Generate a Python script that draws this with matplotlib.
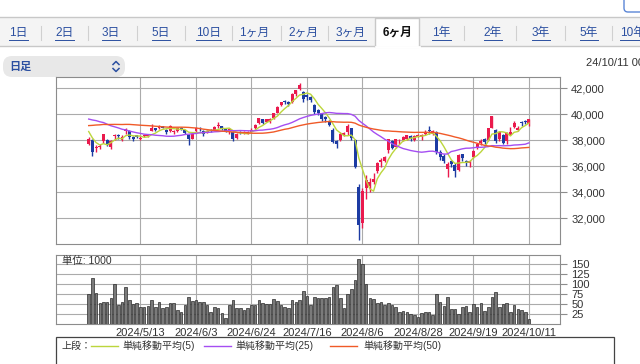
import matplotlib
matplotlib.use("Agg")
import matplotlib.pyplot as plt
import numpy as np
import pandas as pd
from matplotlib.patches import Rectangle, FancyBboxPatch

plt.rcParams["font.family"] = ["Liberation Sans", "Noto Sans CJK JP"]

# closes before the shown window (only feed the moving averages)
pre_close = [36011, 36158, 36354, 36160, 36119, 36863, 36897, 37963, 37703, 38157, 38487, 38470, 38363,
             38262, 39098, 39233, 39239, 39208, 39166, 39910, 40109, 40097, 40090, 39598, 39688, 38820,
             38797, 38695, 38807, 38707, 39740, 40003, 40815, 40888, 40414, 40398, 40762, 40168, 40369,
             39803, 39838, 39451, 39773, 38992, 39347, 39773, 39581, 39442, 39523, 39232, 38471, 37961]

dates = ["4/18", "4/19", "4/22", "4/23", "4/24", "4/25", "4/26", "4/30", "5/1", "5/2",
         "5/7", "5/8", "5/9", "5/10", "5/13", "5/14", "5/15", "5/16", "5/17", "5/20",
         "5/21", "5/22", "5/23", "5/24", "5/27", "5/28", "5/29", "5/30", "5/31", "6/3",
         "6/4", "6/5", "6/6", "6/7", "6/10", "6/11", "6/12", "6/13", "6/14", "6/17",
         "6/18", "6/19", "6/20", "6/21", "6/24", "6/25", "6/26", "6/27", "6/28", "7/1",
         "7/2", "7/3", "7/4", "7/5", "7/8", "7/9", "7/10", "7/11", "7/12", "7/16",
         "7/17", "7/18", "7/19", "7/22", "7/23", "7/24", "7/25", "7/26", "7/29", "7/30",
         "7/31", "8/1", "8/2", "8/5", "8/6", "8/7", "8/8", "8/9", "8/13", "8/14",
         "8/15", "8/16", "8/19", "8/20", "8/21", "8/22", "8/23", "8/26", "8/27", "8/28",
         "8/29", "8/30", "9/2", "9/3", "9/4", "9/5", "9/6", "9/9", "9/10", "9/11",
         "9/12", "9/13", "9/17", "9/18", "9/19", "9/20", "9/24", "9/25", "9/26", "9/27",
         "9/30", "10/1", "10/2", "10/3", "10/4", "10/7", "10/8", "10/9", "10/10", "10/11"]

opens = [37700, 38000, 37400, 37500, 37900, 38000, 37500, 38300, 38350, 38000,
         38700, 38700, 38250, 38350, 38100, 38300, 38300, 38700, 38900, 38900,
         39050, 38800, 38700, 38600, 38700, 38950, 38750, 38400, 38100, 38700,
         38950, 38700, 38600, 38750, 38800, 39050, 39050, 38900, 38700, 38650,
         38150, 38650, 38550, 38500, 38650, 38900, 39300, 39600, 39400, 39400,
         39700, 40100, 40700, 40950, 40900, 40900, 41550, 41900, 41700, 41450,
         41300, 40700, 40300, 40000, 39800, 39500, 38800, 37900, 38000, 38400,
         38600, 38900, 38000, 34400, 31600, 34300, 34500, 34800, 35600, 36300,
         36400, 37200, 37900, 37500, 37900, 38000, 38100, 38300, 38000, 38250,
         38200, 38450, 38800, 38450, 38600, 37100, 36800, 35800, 36400, 36100,
         35700, 36900, 36400, 36200, 36700, 37400, 37800, 38100, 38000, 38950,
         38800, 38100, 38400, 37900, 38400, 39000, 38800, 39350, 39450, 39250]

highs = [38200, 38050, 37600, 37700, 38500, 38100, 38000, 38450, 38450, 38350,
         38900, 38750, 38300, 38400, 38300, 38450, 38450, 39200, 38950, 39150,
         39100, 38850, 39150, 38750, 38950, 39000, 38800, 38450, 38550, 39000,
         39000, 38750, 38800, 38850, 39100, 39350, 39100, 38950, 38900, 38700,
         38550, 38700, 38700, 38700, 38900, 39200, 39700, 39650, 39650, 39700,
         40100, 40600, 40950, 41100, 41000, 41600, 41850, 42426, 41750, 41550,
         41350, 40750, 40400, 40000, 39850, 39550, 38900, 38000, 38600, 38650,
         39200, 38950, 38050, 34600, 34300, 35300, 35100, 35500, 36300, 36600,
         36800, 38100, 38000, 38100, 38100, 38300, 38400, 38400, 38400, 38500,
         38450, 38750, 39100, 38800, 38700, 37200, 36900, 36300, 36500, 36200,
         36900, 36950, 36500, 36500, 37200, 37800, 38100, 38150, 38950, 39830,
         38850, 38700, 38450, 38600, 39000, 39500, 39100, 39500, 39550, 39650]

lows = [37600, 36733, 37100, 37300, 37800, 37550, 37300, 38000, 38100, 37900,
        38500, 38100, 37950, 38150, 38000, 38250, 38250, 38700, 38700, 38850,
        38900, 38500, 38650, 38500, 38650, 38800, 38500, 37650, 38050, 38650,
        38700, 38300, 38550, 38600, 38750, 38950, 38800, 38600, 38500, 37900,
        38100, 38450, 38500, 38450, 38600, 38850, 39250, 39200, 39350, 39300,
        39650, 40050, 40650, 40800, 40600, 40850, 41400, 41850, 40950, 41100,
        40900, 40000, 39900, 39450, 39350, 39100, 37800, 37400, 37950, 38300,
        38400, 38000, 35850, 30300, 31200, 33500, 34000, 34600, 35500, 35900,
        36300, 37000, 37300, 37400, 37700, 37900, 38000, 37900, 37900, 38200,
        38000, 38400, 38500, 38400, 36900, 36500, 36200, 35150, 35900, 35150,
        35650, 36400, 36000, 35900, 36600, 37300, 37600, 37700, 37950, 38900,
        37800, 37900, 37700, 37700, 38400, 38900, 38700, 39100, 39200, 39100]

closes = [38079, 37068, 37438, 37552, 38460, 37628, 37934, 38405, 38274, 38236,
          38835, 38202, 38073, 38229, 38179, 38356, 38385, 38920, 38787, 39069,
          38946, 38617, 39103, 38646, 38900, 38855, 38556, 38054, 38487, 38923,
          38837, 38490, 38703, 38683, 39038, 39134, 38876, 38720, 38814, 38102,
          38482, 38570, 38633, 38596, 38804, 39173, 39667, 39341, 39583, 39631,
          40074, 40580, 40913, 40912, 40780, 41580, 41831, 42224, 41190, 41275,
          41097, 40126, 40063, 39599, 39594, 39154, 37869, 37667, 38468, 38525,
          39101, 38126, 35909, 31500, 34100, 34900, 34800, 35025, 36232, 36442,
          36726, 38062, 37388, 38062, 37951, 38211, 38364, 38110, 38288, 38371,
          38362, 38647, 38700, 38686, 37047, 36657, 36391, 36159, 36159, 35619,
          36833, 36581, 36203, 36380, 37155, 37723, 37940, 37870, 38925, 39829,
          37919, 38651, 37808, 38552, 38635, 39332, 38937, 39277, 39380, 39605]

# volume, unit 1000
volumes = [75, 116, 77, 53, 55, 55, 64, 99, 47, 55,
           93, 60, 49, 53, 43, 43, 45, 60, 43, 55,
           40, 43, 53, 53, 35, 29, 47, 68, 58, 60,
           54, 54, 47, 31, 43, 39, 27, 14, 47, 60,
           41, 40, 35, 40, 47, 47, 60, 52, 50, 50,
           62, 57, 47, 43, 41, 60, 55, 60, 83, 70,
           47, 68, 66, 64, 64, 67, 92, 97, 64, 41,
           75, 87, 110, 162, 150, 99, 66, 62, 52, 55,
           47, 52, 47, 43, 31, 33, 29, 25, 22, 17,
           27, 31, 31, 22, 75, 55, 45, 68, 37, 37,
           25, 43, 45, 31, 50, 43, 52, 33, 43, 67,
           80, 43, 50, 52, 31, 47, 37, 35, 29, 12]

date_ticks = ["2024/5/13", "2024/6/3", "2024/6/24", "2024/7/16",
              "2024/8/6", "2024/8/28", "2024/9/19", "2024/10/11"]
price_ticks = [32000, 34000, 36000, 38000, 40000, 42000]
vol_ticks = [25, 50, 75, 100, 125, 150]

tabs = ["1日", "2日", "3日", "5日", "10日", "1ヶ月", "2ヶ月", "3ヶ月", "6ヶ月", "1年", "2年", "3年", "5年", "10年"]
active_tab = "6ヶ月"

ma_specs = [(5, "#bcd63c", "単純移動平均(5)"),
            (25, "#a54ef2", "単純移動平均(25)"),
            (50, "#f05a28", "単純移動平均(50)")]

UP = "#ea1a4d"
DOWN = "#1c3ba3"
GRID = "#ababab"
FRAME = "#8c8c8c"
TXT = "#333333"
LINK = "#2b4fa0"

W, H = 640, 364
fig = plt.figure(figsize=(W / 100, H / 100), dpi=100)
fig.patch.set_facecolor("white")

# pixel-space overlay for page furniture
ui = fig.add_axes([0, 0, 1, 1], zorder=0)
ui.set_xlim(0, W)
ui.set_ylim(H, 0)
ui.axis("off")

n = len(closes)
x = np.arange(n)
xlim = (-8.84, 127.4)
tick_pos = [dates.index(t.replace("2024/", "")) for t in date_ticks]


def px_axes(left, top, right, bottom):
    return fig.add_axes([left / W, 1 - bottom / H, (right - left) / W, (bottom - top) / H], zorder=2)


def style_axes(ax):
    for s in ax.spines.values():
        s.set_color(FRAME)
        s.set_linewidth(0.8)
    ax.yaxis.tick_right()
    ax.tick_params(axis="y", colors=FRAME, labelcolor=TXT, labelsize=8, length=5, width=0.8, pad=3)
    ax.grid(True, color=GRID, linewidth=0.8)
    ax.set_axisbelow(True)
    ax.set_xlim(*xlim)
    ax.set_xticks(tick_pos)


# ---- price panel ----
ax_p = px_axes(56, 77, 560, 244)
style_axes(ax_p)
ax_p.set_ylim(30000, 42850)
ax_p.set_yticks(price_ticks)
ax_p.set_yticklabels(["{:,}".format(v) for v in price_ticks])
ax_p.tick_params(axis="x", length=0, labelbottom=False)

o = np.array(opens)
c = np.array(closes)
colors = [UP if cc >= oo else DOWN for oo, cc in zip(o, c)]
ax_p.vlines(x, lows, highs, colors=colors, linewidth=1.0, zorder=3)
body_lo = np.minimum(o, c)
body_h = np.maximum(np.abs(c - o), 60)
ax_p.bar(x, body_h, bottom=body_lo, width=0.8, color=colors, linewidth=0, zorder=4)

all_close = pd.Series(pre_close + closes)
for win, col, _ in ma_specs:
    ma = all_close.rolling(win).mean().to_numpy()[len(pre_close):]
    ax_p.plot(x, ma, color=col, linewidth=1.0, zorder=5)

# ---- volume panel ----
ax_v = px_axes(56, 255, 560, 324)
style_axes(ax_v)
ax_v.set_ylim(0, 172.5)
ax_v.set_yticks(vol_ticks)
ax_v.set_yticklabels([str(v) for v in vol_ticks])
ax_v.set_xticklabels(date_ticks)
ax_v.tick_params(axis="x", length=0, pad=3, labelsize=8, labelcolor=TXT)
ax_v.bar(x, volumes, width=0.7, color="#7a7a7a", edgecolor="#2a2a2a", linewidth=0.5, zorder=3)
ax_v.text(6 / 504, 0.91, "単位: 1000", transform=ax_v.transAxes, fontsize=7.5, color=TXT,
          ha="left", va="center", zorder=6)

# ---- tab bar ----
ui.add_patch(Rectangle((0, 17), W, 29, facecolor="#f4f4f4", edgecolor="none"))
ui.plot([0, W], [17, 17], color="#c8c8c8", linewidth=1)
tab_centers = [18.5, 64.5, 111, 161, 208.5, 254.5, 303.5, 351, 397.5, 441.5, 493, 541, 589, 632]
seps = [41, 88, 137, 185, 232, 281, 328, 464, 516, 565, 612]
act_l, act_r = 375, 419
ui.plot([0, act_l], [46, 46], color="#c8c8c8", linewidth=1)
ui.plot([act_r, W], [46, 46], color="#c8c8c8", linewidth=1)
ui.add_patch(Rectangle((act_l, 17.5), act_r - act_l, 29, facecolor="white", edgecolor="#c8c8c8", linewidth=1))
ui.plot([act_l + 0.5, act_r - 0.5], [46.5, 46.5], color="white", linewidth=2)
for sx in seps:
    ui.plot([sx, sx], [26, 40], color="#d0d0d0", linewidth=0.8)

fig.canvas.draw()
renderer = fig.canvas.get_renderer()
inv = ui.transData.inverted()
for label, cx in zip(tabs, tab_centers):
    if label == active_tab:
        ui.text(cx, 33, label, fontsize=8.5, color="#111111", fontweight="bold", ha="center", va="center")
        continue
    if label == "10年":
        # runs off the right edge, as on the page
        t = ui.text(620, 33, label, fontsize=8.5, color=LINK, ha="left", va="center")
    else:
        t = ui.text(cx, 33, label, fontsize=8.5, color=LINK, ha="center", va="center")
    bb = t.get_window_extent(renderer)
    (x0, _), (x1, _) = inv.transform([(bb.x0, bb.y0), (bb.x1, bb.y0)])
    ui.plot([x0, x1], [39.5, 39.5], color=LINK, linewidth=0.7)

# partial button at the top right
ui.add_patch(FancyBboxPatch((624, -12), 30, 24, boxstyle="round,pad=0,rounding_size=4",
                            facecolor="white", edgecolor="#5b86d6", linewidth=1))

# ---- period selector and timestamp ----
ui.add_patch(FancyBboxPatch((3, 56), 122, 21, boxstyle="round,pad=0,rounding_size=9",
                            facecolor="#e8e8e8", edgecolor="none"))
ui.text(9, 66.5, "日足", fontsize=8, color=LINK, fontweight="bold", ha="left", va="center")
ui.plot([113, 116, 119], [64.5, 61.5, 64.5], color=LINK, linewidth=1.1)
ui.plot([113, 116, 119], [68.5, 71.5, 68.5], color=LINK, linewidth=1.1)
ui.text(586, 63, "24/10/11 00:00", fontsize=8, color=TXT, ha="left", va="center")

# ---- legend box ----
ui.add_patch(Rectangle((56, 337), 558, 40, facecolor="white", edgecolor="#444444", linewidth=0.9))
ui.text(62, 346, "上段：", fontsize=7.2, color=TXT, ha="left", va="center")
leg_x = [(91, 118, 122), (204, 231, 235), (330, 357, 363)]
for (l0, l1, tx), (_, col, name) in zip(leg_x, ma_specs):
    ui.plot([l0, l1], [346, 346], color=col, linewidth=1.0)
    ui.text(tx, 346, name, fontsize=7.2, color=TXT, ha="left", va="center")

fig.savefig("out.png", dpi=100)
